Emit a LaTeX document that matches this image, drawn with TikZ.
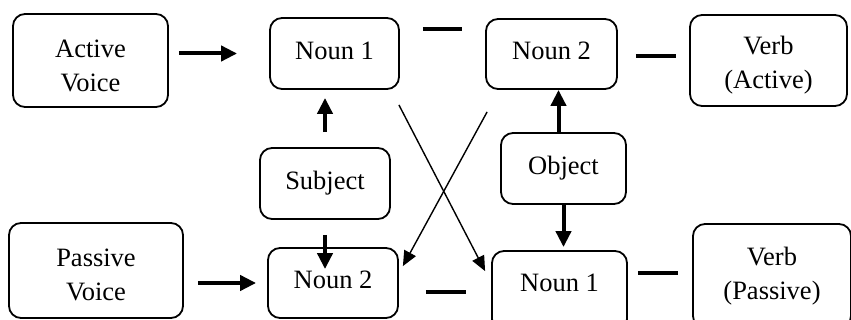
\documentclass[tikz,border=0pt]{standalone}
\usepackage{fontspec}
\setmainfont{Liberation Serif}
\usetikzlibrary{arrows.meta}
\begin{document}
\begin{tikzpicture}[x=1pt,y=-1pt,
  box/.style={draw, line width=1.8pt, rounded corners=12pt, align=center,
    font=\fontsize{26.5}{34}\selectfont, inner sep=0pt},
  thickarrow/.style={line width=4pt, -{Triangle[length=16pt,width=15pt]}},
  thinarrow/.style={line width=1.4pt, -{Triangle[length=15pt,width=13pt]}},
  dashline/.style={line width=4.2pt}]
\useasboundingbox (0,0) rectangle (851,320);
% boxes
\node[box, minimum width=155pt, minimum height=93pt, text height=61.5pt] (av) at (90.5,60.5) {Active\\Voice};
\node[box, minimum width=129pt, minimum height=71pt, text depth=6pt] (n1t) at (334.5,53.5) {Noun 1};
\node[box, minimum width=131pt, minimum height=70pt, text depth=6pt] (n2t) at (551.5,54) {Noun 2};
\node[box, minimum width=157pt, minimum height=91pt, text height=62pt] (va) at (768.5,60.5) {Verb\\(Active)};
\node[box, minimum width=130pt, minimum height=71pt] (subj) at (325,183.5) {Subject};
\node[box, minimum width=125pt, minimum height=71pt, text depth=6pt] (obj) at (563.5,168.5) {Object};
\node[box, minimum width=174pt, minimum height=95pt, text height=60.5pt] (pv) at (96,270.5) {Passive\\Voice};
\node[box, minimum width=130pt, minimum height=70pt, text depth=6pt] (n2b) at (333,283) {Noun 2};
\node[box, minimum width=135pt, minimum height=80pt, text height=17pt, text depth=17pt] (n1b) at (559.5,291) {Noun 1};
\node[box, minimum width=158pt, minimum height=104pt] (vp) at (772,276) {Verb\\(Passive)};
% horizontal thick arrows
\draw[thickarrow, shorten <=10pt, shorten >=32pt] (av.east |- n1t.west) -- (n1t.west);
\draw[thickarrow, shorten <=14pt, shorten >=11pt] (pv.east |- n2b.west) -- (n2b.west);
% vertical thick arrows
\draw[thickarrow] ([yshift=15pt]subj.north) -- ([yshift=-8pt]subj.north |- n1t.south);
\draw[thickarrow] ([yshift=-15pt]subj.south) -- ([yshift=-22pt]subj.south |- n2b.north);
\draw[thickarrow] ([xshift=-5pt]obj.north) -- ([xshift=-5pt]obj.north |- n2t.south);
\draw[thickarrow] (obj.south) -- ([yshift=3pt]obj.south |- n1b.north);
% crossing thin arrows
\draw[thinarrow] ([xshift=-1pt,yshift=-15pt]n1t.south east) -- ([xshift=-6pt,yshift=-21pt]n1b.north west);
\draw[thinarrow] ([xshift=2pt,yshift=-22pt]n2t.south west) -- ([xshift=4pt,yshift=-19pt]n2b.north east);
% dashes
\draw[dashline, shorten <=23pt, shorten >=23pt] ([yshift=24.5pt]n1t.east) -- ([yshift=24.5pt]n1t.east -| n2t.west);
\draw[dashline, shorten <=18pt, shorten >=13pt] ([yshift=-2pt]n2t.east) -- ([yshift=-2pt]n2t.east -| va.west);
\draw[dashline, shorten <=27pt, shorten >=25pt] ([yshift=-9pt]n2b.east) -- ([yshift=-9pt]n2b.east -| n1b.west);
\draw[dashline, shorten <=10pt, shorten >=14pt] ([yshift=18pt]n1b.east) -- ([yshift=18pt]n1b.east -| vp.west);
\end{tikzpicture}
\end{document}
